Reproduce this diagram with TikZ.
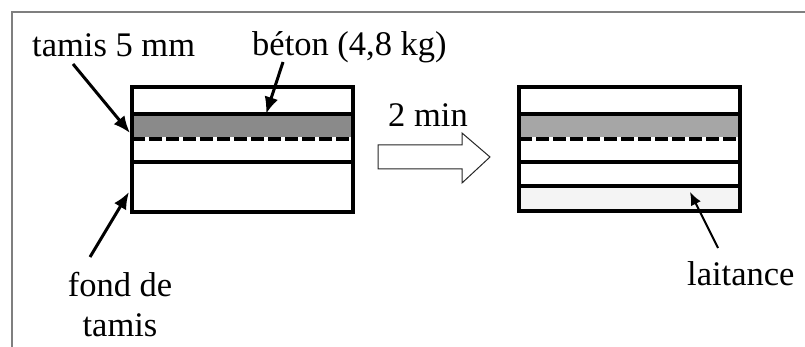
\documentclass[tikz,border=0pt]{standalone}
\usepackage{fontspec}
\setmainfont{Liberation Serif}
\usetikzlibrary{arrows.meta}
\definecolor{bandA}{HTML}{8A8A8A}
\definecolor{bandB}{HTML}{A6A6A6}
\definecolor{laitc}{HTML}{F4F4F4}
\definecolor{framec}{HTML}{7F7F7F}
\tikzset{
  lbl/.style={inner sep=0pt, anchor=base west, font=\fontsize{34.5}{39.7}\selectfont},
  lblc/.style={inner sep=0pt, anchor=base, font=\fontsize{34.5}{39.7}\selectfont},
  wall/.style={line width=4pt},
  sieve/.style={line width=4pt, dash pattern=on 13pt off 4pt},
  pointer/.style={line width=3pt, -{Latex[length=17pt,width=14pt]}},
  thinpointer/.style={line width=2pt, -{Latex[length=13pt,width=11pt]}},
  blockarrow/.style={draw=black!85, line width=1pt, fill=white}
}
\begin{document}
\begin{tikzpicture}[x=1pt,y=-1pt]
\useasboundingbox (0,0) rectangle (805,347);
% frame (cropped)
\draw[framec, line width=1.5pt] (12,347) -- (12,12) -- (805,12);

% left box
\fill[bandA] (132,116) rectangle (353,137);
\draw[wall] (132,114) -- (353,114);
\draw[sieve] (132,139) -- (353,139);
\draw[wall] (132,162) -- (353,162);
\draw[wall] (132,87) rectangle (353,212);

% right box
\fill[bandB] (519,116) rectangle (740,137);
\fill[laitc] (519,188) rectangle (740,209);
\draw[wall] (519,114) -- (740,114);
\draw[sieve] (519,139) -- (740,139);
\draw[wall] (519,162) -- (740,162);
\draw[wall] (519,186) -- (740,186);
\draw[wall] (519,87) rectangle (740,211);

% block arrow
\draw[blockarrow] (378,145) -- (462,145) -- (462,133) -- (490,157) -- (462,183) -- (462,169) -- (378,169) -- cycle;

% labels
\node[lbl] (tamis) at (32,57) {tamis 5 mm};
\node[lbl] (beton) at (252,56) {béton (4,8 kg)};
\node[lbl] (temps) at (388,127) {2 min};
\node[lblc] (fond1) at (120,296) {fond de};
\node[lblc] (fond2) at (120,336) {tamis};
\node[lbl] (lait) at (687,285) {laitance};

% arrow end points
\coordinate (tamisS) at (73,64);
\coordinate (tamisT) at (130,133);
\coordinate (betonS) at (283,62);
\coordinate (betonT) at (266,114);
\coordinate (fondS) at (90,257);
\coordinate (fondT) at (129,192);
\coordinate (laitS) at (718,248);
\coordinate (laitT) at (690,192);

\draw[pointer] (tamisS) -- (tamisT);
\draw[pointer] (betonS) -- (betonT);
\draw[pointer] (fondS) -- (fondT);
\draw[thinpointer] (laitS) -- (laitT);
\end{tikzpicture}
\end{document}
